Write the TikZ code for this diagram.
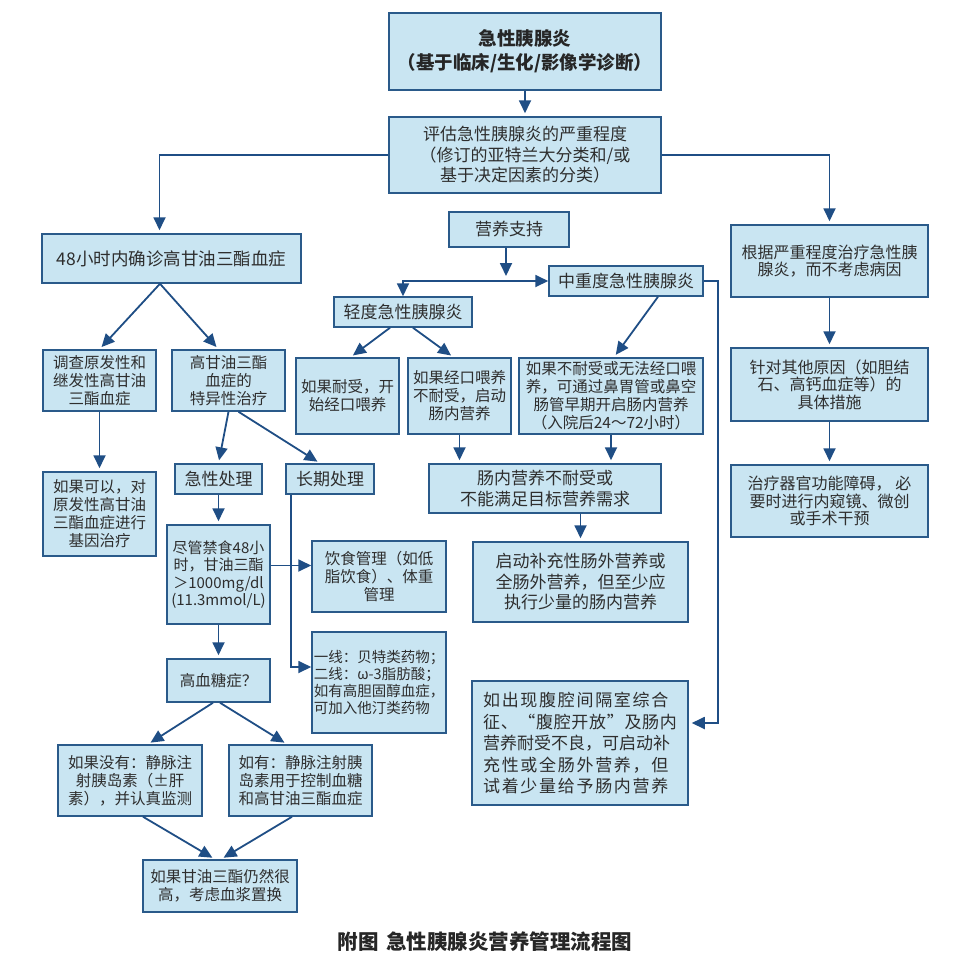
\documentclass[tikz,border=0pt]{standalone}
\usepackage{fontspec}
\setmainfont{Noto Sans CJK SC}
\usetikzlibrary{arrows.meta,calc}
\definecolor{fillc}{HTML}{C9E5F2}
\definecolor{bord}{HTML}{2A5A8A}
\definecolor{arrc}{HTML}{1F4E85}
\definecolor{txt}{HTML}{2E2E2E}
\newcommand\fA{\fontsize{17}{20.5}\selectfont}
\newcommand\fB{\fontsize{15.5}{18}\selectfont}
\newcommand\fR{\fontsize{16}{17.5}\selectfont}
\newcommand\fC{\fontsize{14.5}{17}\selectfont}
\newcommand\spc[2][10]{{\addfontfeatures{LetterSpace=#1}#2}}
\newcommand\bx[7][]{\node[box,font=\fB,#1,minimum width={(#5-#3)*1pt},minimum height={(#6-#4)*1pt}] (#2) at ({(#3+#5)/2},{(#4+#6)/2}) {#7};}
\tikzset{
  tip/.tip={Triangle[length=13pt,width=12pt]},
  box/.style={draw=bord,line width=1.5pt,fill=fillc,text=txt,align=center,inner sep=2pt},
  arr/.style={draw=arrc,line width=1.8pt,-tip,shorten >=3pt},
  arr0/.style={draw=arrc,line width=1.8pt,-tip},
  arrB/.style={draw=arrc,line width=1.8pt,tip-tip},
}
\begin{document}
\begin{tikzpicture}[x=1pt,y=-1pt]
\useasboundingbox[fill=white] (0,0) rectangle (958,970);
% boxes
\bx[font={\fontsize{18.5}{24}\selectfont\bfseries},text=black!85]{top}{389}{13}{661}{90}{急性胰腺炎\\（基于临床/生化/影像学诊断）}
\bx[font=\fA]{sev}{389}{117}{661}{193}{评估急性胰腺炎的严重程度\\（修订的亚特兰大分类和/或\\基于决定因素的分类）}
\bx[font={\fontsize{17.5}{20}\selectfont}]{h48}{42}{234}{301}{283}{48小时内确诊高甘油三酯血症}
\bx[font=\fA]{nut}{449}{212}{569}{247}{营养支持}
\bx[font=\fA]{mild}{334}{297}{472}{327}{轻度急性胰腺炎}
\bx[font=\fA]{modsev}{549}{266}{703}{296}{中重度急性胰腺炎}
\bx[font=\fR]{r1}{731}{225}{928}{297}{根据严重程度治疗急性胰\\腺炎，而不考虑病因}
\bx[font=\fR]{r2}{731}{348}{928}{421}{针对其他原因（如胆结\\石、高钙血症等）的\\具体措施}
\bx[font=\fR]{r3}{731}{465}{928}{537}{治疗器官功能障碍， 必\\要时进行内窥镜、微创\\或手术干预}
\bx{inv}{43}{350}{156}{411}{调查原发性和\\继发性高甘油\\三酯血症}
\bx{spec}{172}{350}{285}{411}{高甘油三酯\\血症的\\特异性治疗}
\bx{gene}{43}{472}{156}{556}{如果可以，对\\原发性高甘油\\三酯血症进行\\基因治疗}
\bx[font=\fA]{acute}{175}{464}{262}{494}{急性处理}
\bx[font=\fA]{longt}{286}{464}{374}{494}{长期处理}
\bx[font={\fontsize{15}{17.5}\selectfont}]{fast}{167}{525}{270}{624}{尽管禁食48小\\时，甘油三酯\\＞1000mg/dl\\(11.3mmol/L)}
\bx{diet}{312}{541}{446}{612}{饮食管理（如低\\脂饮食）、体重\\管理}
\bx[font=\fC,align=left,inner sep=1pt]{drug}{312}{632}{446}{733}{一线：贝特类药物；\\二线：ω-3脂肪酸；\\如有高胆固醇血症，\\可加入他汀类药物}
\bx{hyper}{167}{659}{270}{702}{高血糖症？}
\bx{no}{58}{745}{202}{816}{如果没有：静脉注\\射胰岛素（±肝\\素），并认真监测}
\bx{yes}{229}{745}{372}{816}{如有：静脉注射胰\\岛素用于控制血糖\\和高甘油三酯血症}
\bx{plasma}{143}{860}{297}{912}{如果甘油三酯仍然很\\高，考虑血浆置换}
\bx{tol}{296}{358}{399}{434}{如果耐受，开\\始经口喂养}
\bx{oral}{408}{358}{511}{434}{如果经口喂养\\不耐受，启动\\肠内营养}
\bx{early}{519}{358}{703}{434}{如果不耐受或无法经口喂\\养，可通过鼻胃管或鼻空\\肠管早期开启肠内营养\\（入院后24～72小时）}
\bx[font=\fA]{entl}{429}{464}{661}{513}{肠内营养不耐受或\\不能满足目标营养需求}
\bx[font=\fA]{pn}{473}{542}{688}{622}{启动补充性肠外营养或\\全肠外营养，但至少应\\执行少量的肠内营养}
\bx[font={\fontsize{17}{21.5}\selectfont},align=left]{acs}{472}{681}{688}{805}{\spc{如出现腹腔间隔室综合}\\\spc[4]{征、“腹腔开放”及肠内}\\营养耐受不良，可启动补\\\spc{充性或全肠外营养，但}\\\spc{试着少量给予肠内营养}}
\node[font={\fontsize{20.5}{24}\selectfont\bfseries},text=black!85] (cap) at (485,942) {附图\hspace{8pt}急性胰腺炎营养管理流程图};
% connectors
\draw[arr] (top.south) -- (sev.north);
\draw[arr] (sev.west) -| ([xshift=-12pt]h48.north);
\draw[arr] (sev.east) -| (r1.north);
\draw[arr] (r1.south) -- (r2.north);
\draw[arr] (r2.south) -- (r3.north);
\coordinate (jn) at ([xshift=-3pt]nut.south |- modsev.west);
\draw[arr,shorten >=5pt] ([xshift=-3pt]nut.south) -- (jn);
\draw[arrB] (mild.north) |- (modsev.west);
\draw[arr] (modsev.east) -- ++(14,0) |- ([yshift=20pt]acs.east);
\draw[arr] ([xshift=32pt]modsev.south) -- ([xshift=3pt]early.north);
\draw[arr] ([xshift=-13pt]mild.south) -- ([xshift=3pt]tol.north);
\draw[arr] ([xshift=10pt]mild.south) -- ([xshift=-6pt]oral.north);
\draw[arr] (oral.south) -- (oral.south |- entl.north);
\draw[arr] (early.south) -- (early.south |- entl.north);
\draw[arr] (pn.north |- entl.south) -- (pn.north);
\draw[arr] ([xshift=-11.5pt]h48.south) -- (inv.north);
\draw[arr] ([xshift=-11.5pt]h48.south) -- ([xshift=-10pt]spec.north);
\draw[arr] (inv.south) -- (gene.north);
\draw[arr] (spec.south) -- (acute.north);
\draw[arr] ([xshift=10pt]spec.south) -- ([xshift=-10pt]longt.north);
\draw[arr] (acute.south) -- (fast.north);
\draw[arr0] ([yshift=9pt]fast.east) -- ([yshift=11pt]diet.west);
\draw[arr0] ([xshift=-39pt]longt.south) |- ([yshift=15.5pt]drug.west);
\draw[arr] (fast.south) -- (hyper.north);
\draw[arr] ([xshift=-5.5pt]hyper.south) -- ([xshift=18pt]no.north);
\draw[arr] ([xshift=1.5pt]hyper.south) -- ([xshift=-13.5pt]yes.north);
\draw[arr] ([xshift=13pt]no.south) -- ([xshift=-5pt]plasma.north);
\draw[arr] ([xshift=-8.5pt]yes.south) -- ([xshift=1pt]plasma.north);
\end{tikzpicture}
\end{document}
